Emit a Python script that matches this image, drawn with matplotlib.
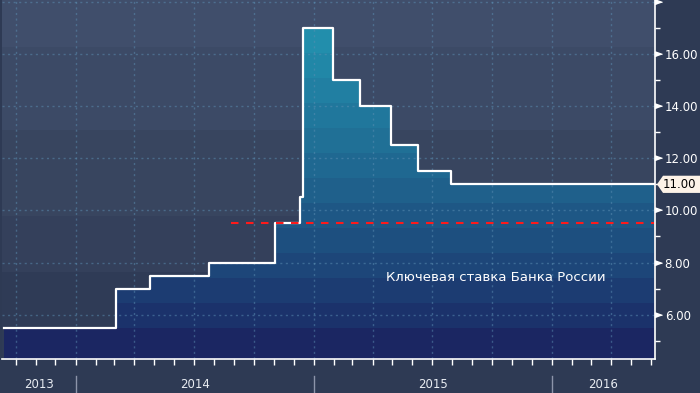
import matplotlib
matplotlib.use('Agg')
import matplotlib.pyplot as plt
import matplotlib.dates as mdates
import matplotlib.transforms as mtransforms
from matplotlib.patches import Polygon
import numpy as np
import pandas as pd

# key rate of the Bank of Russia (step changes)
dates = ['2013-09-13', '2014-03-03', '2014-04-25', '2014-07-25', '2014-11-03',
         '2014-12-11', '2014-12-16', '2015-01-30', '2015-03-13', '2015-04-30',
         '2015-06-10', '2015-07-31', '2016-06-06']
rates = [5.5, 7.0, 7.5, 8.0, 9.5, 10.5, 17.0, 15.0, 14.0, 12.5, 11.5, 11.0, 11.0]

target_level = 9.5
target_start = '2014-08-27'

years = ['2013', '2014', '2015', '2016']
year_starts = ['2014-01-01', '2015-01-01', '2016-01-01']
yticks = [6, 8, 10, 12, 14, 16]
last_label = '11.00'
title = 'Ключевая ставка Банка России'

x_lo, x_hi = mdates.date2num(pd.Timestamp('2013-09-10')), mdates.date2num(pd.Timestamp('2016-06-07'))
y_lo, y_hi = 4.30, 18.07

fig = plt.figure(figsize=(7, 3.93), dpi=100, facecolor='#2e3a54')
ax = fig.add_axes([2 / 700, 34 / 393, 653 / 700, 359 / 393])
ax.set_facecolor('#2f3b56')

# background bands
bg = [(16.27, 19, '#404e6b'), (13.08, 16.27, '#3c4a66'), (9.78, 13.08, '#38455f'),
      (7.63, 9.78, '#34405b'), (0, 7.63, '#2f3b56')]
for a, b, c in bg:
    ax.axhspan(a, b, color=c, lw=0, zorder=0)

x = mdates.date2num(pd.to_datetime(dates))

# banded gradient fill clipped under the step line
poly = ax.fill_between(x, rates, 0, step='post', facecolor='none', lw=0)
nb = 16
c0 = np.array([27, 38, 98]) / 255
c1 = np.array([35, 150, 178]) / 255
f = np.clip((np.arange(nb) - 1) / 13, 0, 1) ** 0.85
cols = c0[None, :] + (c1 - c0)[None, :] * f[:, None]
im = ax.imshow(cols[:, None, :], extent=[x_lo, x_hi, 3.57, 3.57 + 0.959 * nb],
               origin='lower', aspect='auto', interpolation='nearest', zorder=1)
im.set_clip_path(poly.get_paths()[0], ax.transData)

# grid
gcol = (0.36, 0.56, 0.70, 0.5)
for v in range(6, 19, 2):
    ax.axhline(v, color=gcol, lw=1, ls=(0, (1.5, 2.5)), zorder=2)
for d in pd.date_range('2013-10-01', '2016-06-01', freq='QS'):
    ax.axvline(mdates.date2num(d), color=gcol, lw=1, ls=(0, (1.5, 2.5)), zorder=2)

ax.step(x, rates, where='post', color='white', lw=1.6, zorder=4)
ax.hlines(target_level, mdates.date2num(pd.Timestamp(target_start)), x[-1],
          colors='#ff1a1a', linestyles=(0, (3.6, 3.6)), lw=1.5, zorder=5)

ax.text(0.756, 0.228, title, transform=ax.transAxes, ha='center', va='center',
        color='white', fontsize=9.5, zorder=6)

ax.set_xlim(x_lo, x_hi)
ax.set_ylim(y_lo, y_hi)

for s in ['left', 'top']:
    ax.spines[s].set_visible(False)
for s in ['right', 'bottom']:
    ax.spines[s].set_color('white')
    ax.spines[s].set_linewidth(1.2)

ax.xaxis.set_major_locator(mdates.MonthLocator())
ax.xaxis.set_major_formatter(plt.NullFormatter())
ax.tick_params(axis='x', colors='white', length=4, width=1, direction='out')

ax.yaxis.tick_right()
ax.set_yticks(yticks)
ax.set_yticklabels(['%.2f' % v for v in yticks])
ax.set_yticks(range(5, 18, 2), minor=True)
ax.tick_params(axis='y', which='major', length=0, pad=7, labelsize=8.5, labelcolor='white')
ax.tick_params(axis='y', which='minor', length=3.5, width=1, color='white')
ax.tick_params(axis='y', which='both', left=False, right=True)

tri = [(0, -0.5), (0, 0.5), (1.4, 0)]
ax.plot([1] * 7, list(range(6, 19, 2)), transform=mtransforms.blended_transform_factory(ax.transAxes, ax.transData),
        marker=tri, ms=10, ls='none', color='white', clip_on=False, zorder=7)

# last value tag
tr = mtransforms.blended_transform_factory(fig.transFigure, ax.transData)
h = 0.33
tag = Polygon([(657 / 700, 11), (663 / 700, 11 + h), (1.0, 11 + h), (1.0, 11 - h), (663 / 700, 11 - h)],
              closed=True, transform=tr, facecolor='#fdf3e8', edgecolor='none', clip_on=False, zorder=8)
fig.add_artist(tag)
fig.text(679 / 700, 11, last_label, transform=tr, ha='center', va='center', color='black', fontsize=8.5, zorder=9)

# year labels and separators
bounds = [x_lo] + [mdates.date2num(pd.Timestamp(d)) for d in year_starts] + [x_hi]
trx = mtransforms.blended_transform_factory(ax.transData, fig.transFigure)
for i, yr in enumerate(years):
    ax.text((bounds[i] + bounds[i + 1]) / 2, 8 / 393, yr, transform=trx, ha='center', va='center',
            color='#e8ecf2', fontsize=8.5, clip_on=False)
for b in bounds[1:-1]:
    ax.plot([b, b], [0, 17 / 393], transform=trx, color='#8c94aa', lw=1, clip_on=False)

fig.savefig('out.png', dpi=100, facecolor=fig.get_facecolor())
